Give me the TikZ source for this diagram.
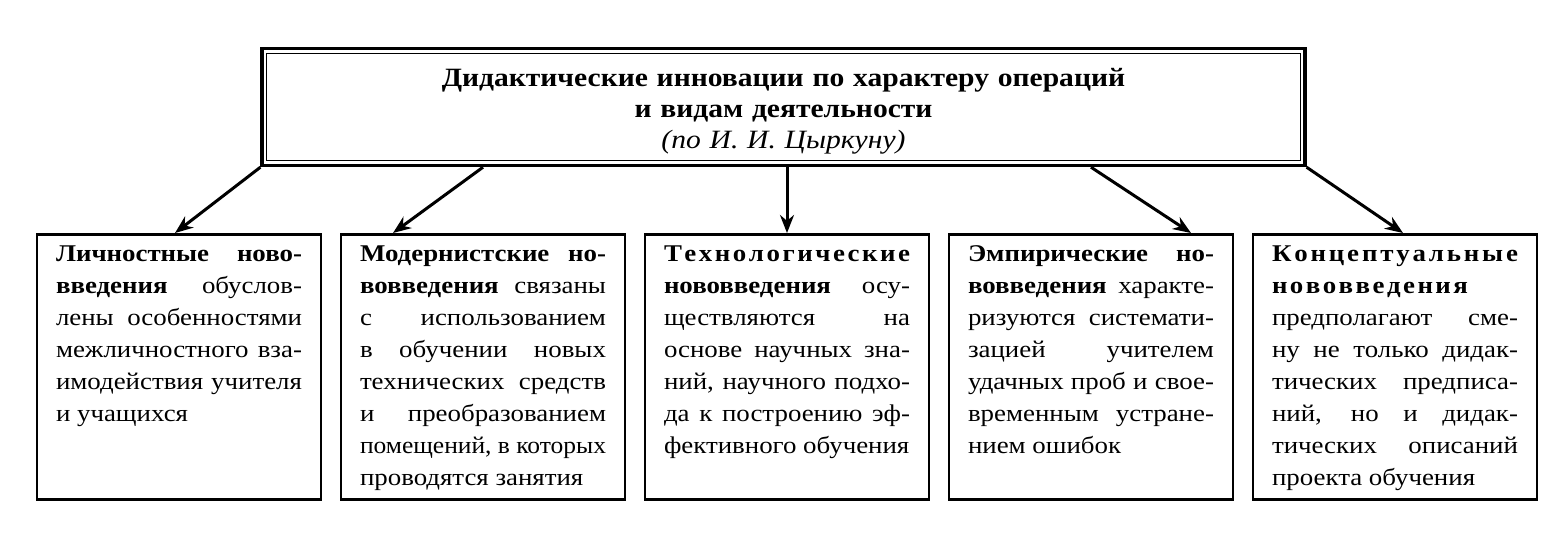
\documentclass[tikz,border=0pt]{standalone}
\usepackage{fontspec}
\usepackage{graphicx}
\setmainfont{Liberation Serif}[FakeStretch=1.12]
\usetikzlibrary{arrows.meta}
\tolerance=10000
\hbadness=10000
% letters of a word spread over a given width
\def\sprd#1#2\relax{#1\ifx\relax#2\relax\else\hfil\sprd#2\relax\fi}
\newcommand\spreadword[2]{\makebox[#1][s]{\sprd#2\relax}}
\begin{document}
\begin{tikzpicture}[x=0.5pt,y=-0.5pt,
    titlebox/.style={draw, line width=1.6pt, text width=500pt, align=center, inner xsep=10.75pt, inner ysep=0pt, text height=19pt, text depth=39.5pt, anchor=north, font=\fontsize{13.2pt}{15.5pt}\selectfont},
    innobox/.style={draw, line width=1.3pt, text width=123pt, align=justify, inner xsep=9.5pt, inner ysep=4.5pt, text height=9pt, text depth=114.5pt, anchor=north, font=\fontsize{12pt}{16pt}\selectfont},
    arrow/.style={line width=1.5pt, -{Stealth[length=9pt,width=7pt]}}]
  \useasboundingbox (0,0) rectangle (1565,542);
  \node[titlebox] (title) at (783.5,47) {\textbf{Дидактические инновации по характеру операций}\\ \textbf{и видам деятельности}\\ \textit{(по И. И. Цыркуну)}};
  \draw[line width=0.6pt] ([shift={(3.2pt,-3.2pt)}]title.north west) rectangle ([shift={(-3.2pt,3.2pt)}]title.south east);
  \node[innobox] (personal) at (179,233) {\textbf{Личностные ново-}\linebreak \textbf{введения} обуслов-\linebreak лены особенностями\linebreak межличностного вза-\linebreak имодействия учителя\linebreak и~учащихся};
  \node[innobox] (modern) at (483,233) {\textbf{Модернистские но-}\linebreak \textbf{вовведения} связаны\linebreak с использованием\linebreak в обучении новых\linebreak технических средств\linebreak и преобразованием\linebreak \resizebox{\linewidth}{\height}{помещений, в которых}\linebreak проводятся занятия};
  \node[innobox] (techno) at (787,233) {\textbf{\spreadword{\linewidth}{Технологические}}\linebreak \textbf{нововведения} осу-\linebreak ществляются на\linebreak основе научных зна-\linebreak ний, научного подхо-\linebreak да к построению эф-\linebreak фективного обучения};
  \node[innobox] (empiric) at (1091,233) {\textbf{Эмпирические но-}\linebreak \textbf{вовведения} характе-\linebreak ризуются системати-\linebreak зацией учителем\linebreak удачных проб и свое-\linebreak временным устране-\linebreak нием ошибок};
  \node[innobox] (concept) at (1395,233) {\textbf{\spreadword{\linewidth}{Концептуальные}}\linebreak \textbf{\spreadword{98pt}{нововведения}}\\ предполагают сме-\linebreak ну не только дидак-\linebreak тических предписа-\linebreak ний, но и дидак-\linebreak тических описаний\linebreak проекта обучения};
  \draw[arrow] (title.south west) -- ([xshift=-2pt]personal.north);
  \draw[arrow] (title.south -| modern.north) -- ([xshift=-45pt]modern.north);
  \draw[arrow] (title.south -| techno.north) -- (techno.north);
  \draw[arrow] (title.south -| empiric.north) -- ([xshift=50pt]empiric.north);
  \draw[arrow] (title.south east) -- ([xshift=4pt]concept.north);
\end{tikzpicture}
\end{document}
